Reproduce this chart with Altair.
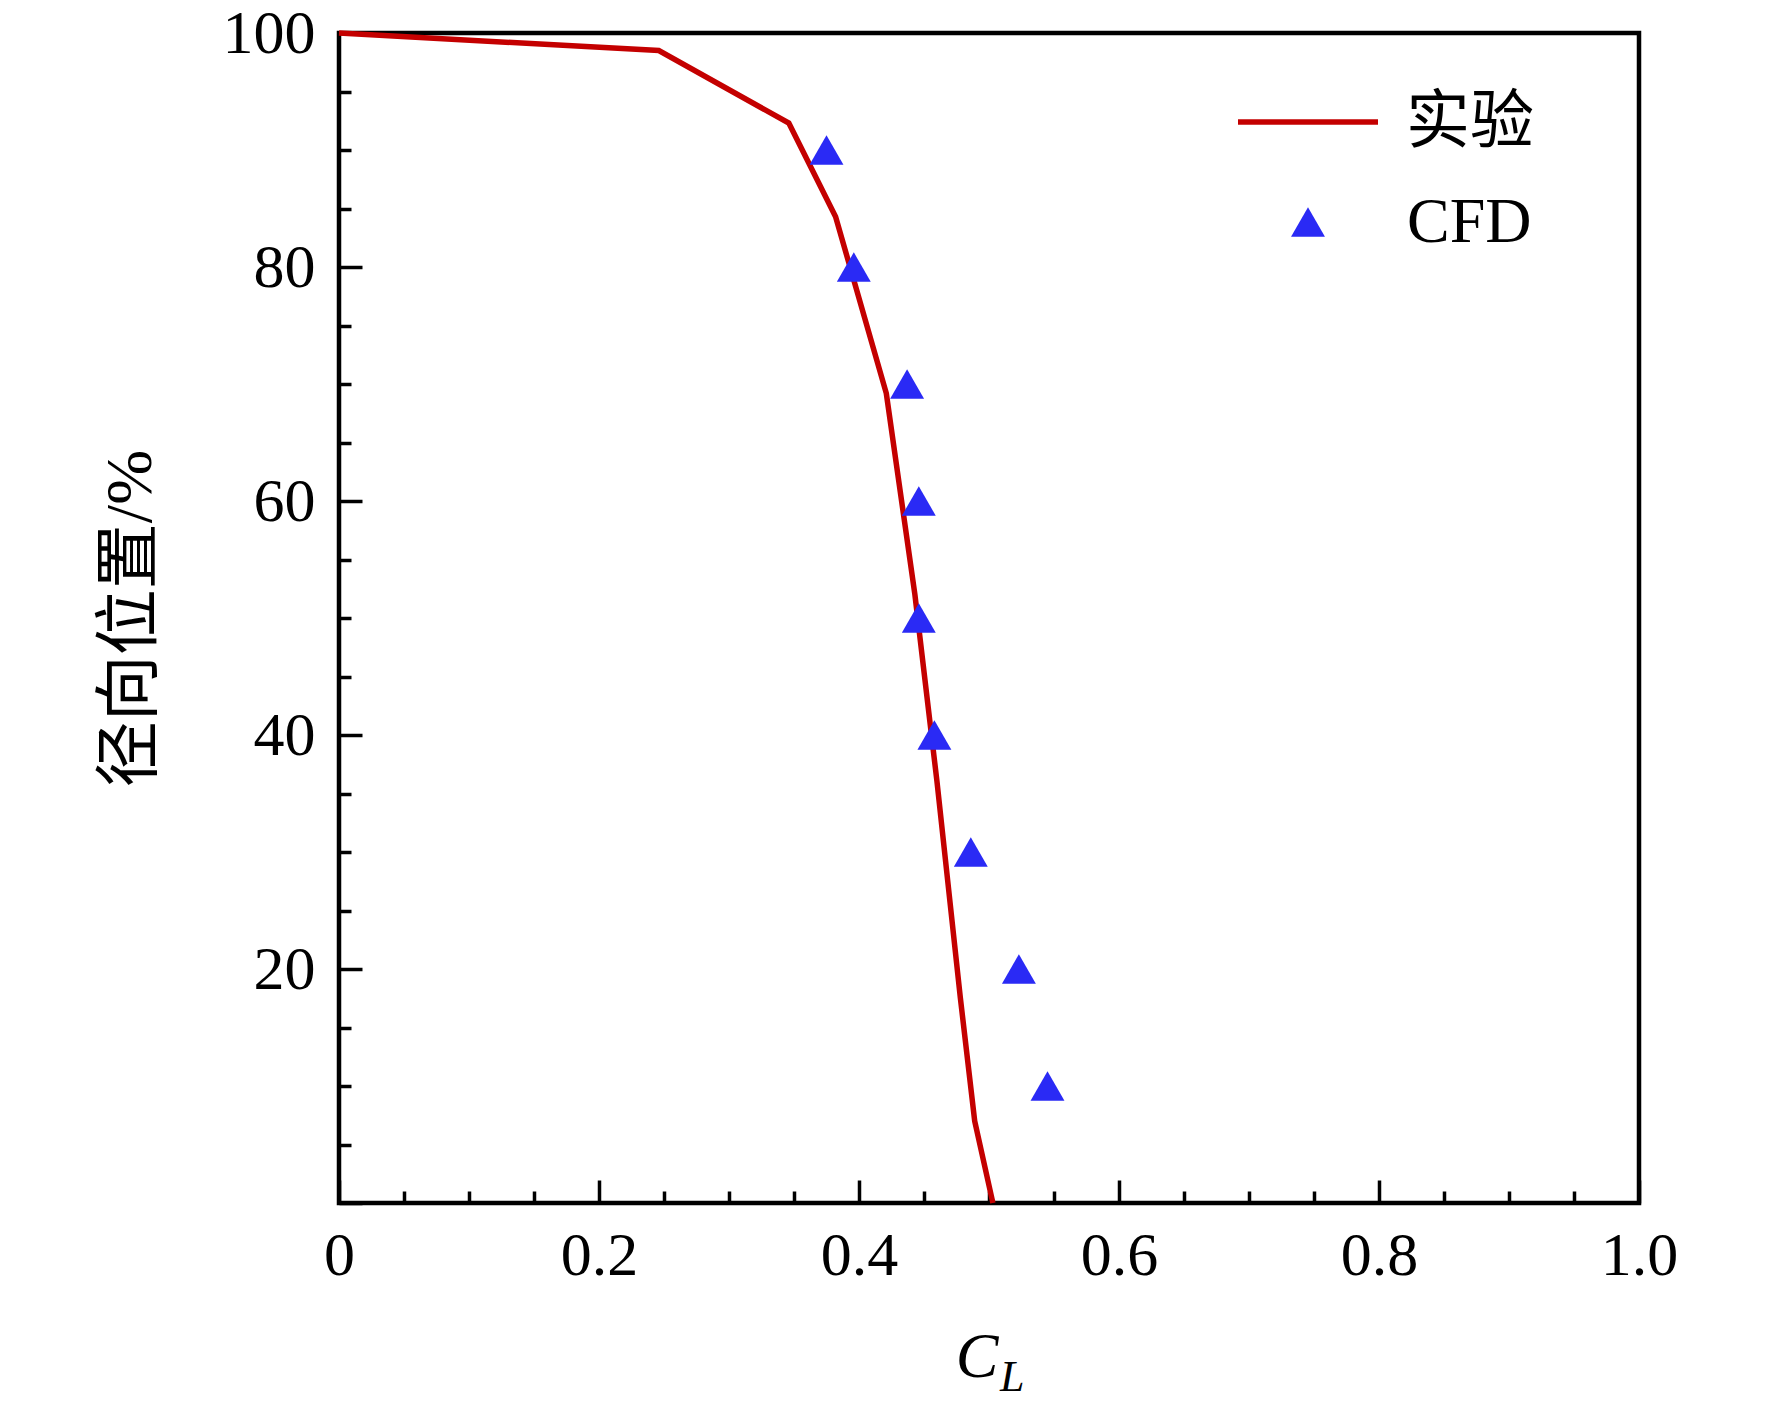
import altair as alt
import pandas as pd

# ---- data ----
exp_cl = [0.0, 0.246, 0.346, 0.382, 0.421, 0.443, 0.460, 0.478, 0.489, 0.503]
exp_r = [100.0, 98.5, 92.3, 84.3, 69.2, 52.0, 36.0, 17.5, 7.0, 0.0]

cfd_cl = [0.375, 0.396, 0.437, 0.446, 0.446, 0.458, 0.486, 0.523, 0.545]
cfd_r = [90, 80, 70, 60, 50, 40, 30, 20, 10]

x_major = [0.0, 0.2, 0.4, 0.6, 0.8, 1.0]
x_minor = [0.05, 0.1, 0.15, 0.25, 0.3, 0.35, 0.45, 0.5, 0.55, 0.65, 0.7, 0.75, 0.85, 0.9, 0.95]
y_labels = [20, 40, 60, 80, 100]
y_major = [0, 20, 40, 60, 80, 100]
y_minor = [5, 10, 15, 25, 30, 35, 45, 50, 55, 65, 70, 75, 85, 90, 95]

legend_labels = ["实验", "CFD"]
x_title_main = "C"
x_title_sub = "L"
y_title = "径向位置/%"

# ---- styling ----
FONT = "Liberation Serif, Times New Roman, Noto Sans CJK SC"
RED = "#c40000"
BLUE = "#2a2af5"
W, H = 1300, 1170

exp_df = pd.DataFrame({"cl": exp_cl, "r": exp_r})
cfd_df = pd.DataFrame({"cl": cfd_cl, "r": cfd_r})

xs = alt.Scale(domain=[0, 1], nice=False, zero=False)
ys = alt.Scale(domain=[0, 100], nice=False, zero=False)

# layer with labels + title
line = alt.Chart(exp_df).mark_line(color=RED, strokeWidth=5.5, clip=False).encode(
    x=alt.X("cl:Q", scale=xs, axis=alt.Axis(
        orient="bottom", values=x_major,
        labelExpr="datum.value == 0 ? '0' : format(datum.value, '.1f')",
        ticks=False, domain=False, grid=False, labelFlush=False, labelOverlap=False,
        labelFont=FONT, labelFontSize=62, labelColor="black", labelPadding=22, title=None)),
    y=alt.Y("r:Q", scale=ys, axis=alt.Axis(
        orient="left", values=y_labels, format="d",
        ticks=False, domain=False, grid=False, labelFlush=False, labelOverlap=False,
        labelFont=FONT, labelFontSize=62, labelColor="black", labelPadding=24,
        title=y_title, titleFont=FONT, titleFontSize=66, titleFontWeight="normal",
        titleColor="black", titleX=-209, titleY=585, titleAngle=270,
        titleAlign="center", titleBaseline="middle")),
    order=alt.Order("cl:Q"),
)

# layer carrying the inward major ticks
cfd = alt.Chart(cfd_df).mark_point(shape="triangle-up", filled=True, size=1150,
                                   color=BLUE, opacity=1).encode(
    x=alt.X("cl:Q", scale=xs, axis=alt.Axis(
        orient="bottom", values=x_major, labels=False, ticks=True, tickSize=23,
        tickWidth=3.5, tickColor="black", offset=-23, domain=False, grid=False, title=None)),
    y=alt.Y("r:Q", scale=ys, axis=alt.Axis(
        orient="left", values=y_major, labels=False, ticks=True, tickSize=23,
        tickWidth=3.5, tickColor="black", offset=-23, domain=False, grid=False, title=None)),
)

# invisible layer carrying the inward minor ticks
minor = alt.Chart(cfd_df).mark_point(opacity=0).encode(
    x=alt.X("cl:Q", scale=xs, axis=alt.Axis(
        orient="bottom", values=x_minor, labels=False, ticks=True, tickSize=12,
        tickWidth=3.5, tickColor="black", offset=-12, domain=False, grid=False, title=None)),
    y=alt.Y("r:Q", scale=ys, axis=alt.Axis(
        orient="left", values=y_minor, labels=False, ticks=True, tickSize=12,
        tickWidth=3.5, tickColor="black", offset=-12, domain=False, grid=False, title=None)),
)

# legend
leg1_df = pd.DataFrame({"label": [legend_labels[0]]})
leg2_df = pd.DataFrame({"label": [legend_labels[1]]})

leg_line = alt.Chart(leg1_df).mark_rule(color=RED, strokeWidth=5.5).encode(
    x=alt.value(899), x2=alt.value(1039), y=alt.value(89))
leg_text1 = alt.Chart(leg1_df).mark_text(font=FONT, fontSize=64, align="left",
                                         baseline="middle", color="black").encode(
    text="label:N", x=alt.value(1067), y=alt.value(90))
leg_tri = alt.Chart(leg2_df).mark_point(shape="triangle-up", filled=True, size=1150,
                                        color=BLUE, opacity=1).encode(
    x=alt.value(969), y=alt.value(189))
leg_text2 = alt.Chart(leg2_df).mark_text(font=FONT, fontSize=64, align="left",
                                         baseline="middle", color="black").encode(
    text="label:N", x=alt.value(1068), y=alt.value(190))

# x-axis title C_L (italic with subscript)
xt_df = pd.DataFrame({"main": [x_title_main], "sub": [x_title_sub]})
xt_main = alt.Chart(xt_df).mark_text(font=FONT, fontSize=64, fontStyle="italic",
                                     align="center", baseline="alphabetic",
                                     color="black").encode(
    text="main:N", x=alt.value(638), y=alt.value(1344))
xt_sub = alt.Chart(xt_df).mark_text(font=FONT, fontSize=44, fontStyle="italic",
                                    align="left", baseline="alphabetic",
                                    color="black").encode(
    text="sub:N", x=alt.value(661), y=alt.value(1358))

chart = alt.layer(
    line, cfd, minor, leg_line, leg_text1, leg_tri, leg_text2, xt_main, xt_sub
).resolve_axis(x="independent", y="independent").properties(
    width=W, height=H,
    autosize=alt.AutoSizeParams(type="none"),
    padding={"left": 331, "top": 25, "right": 100, "bottom": 200},
    background="white",
).configure_view(stroke="black", strokeWidth=4.5)

chart.save("out.html", embed_options={"renderer": "svg", "actions": False})
